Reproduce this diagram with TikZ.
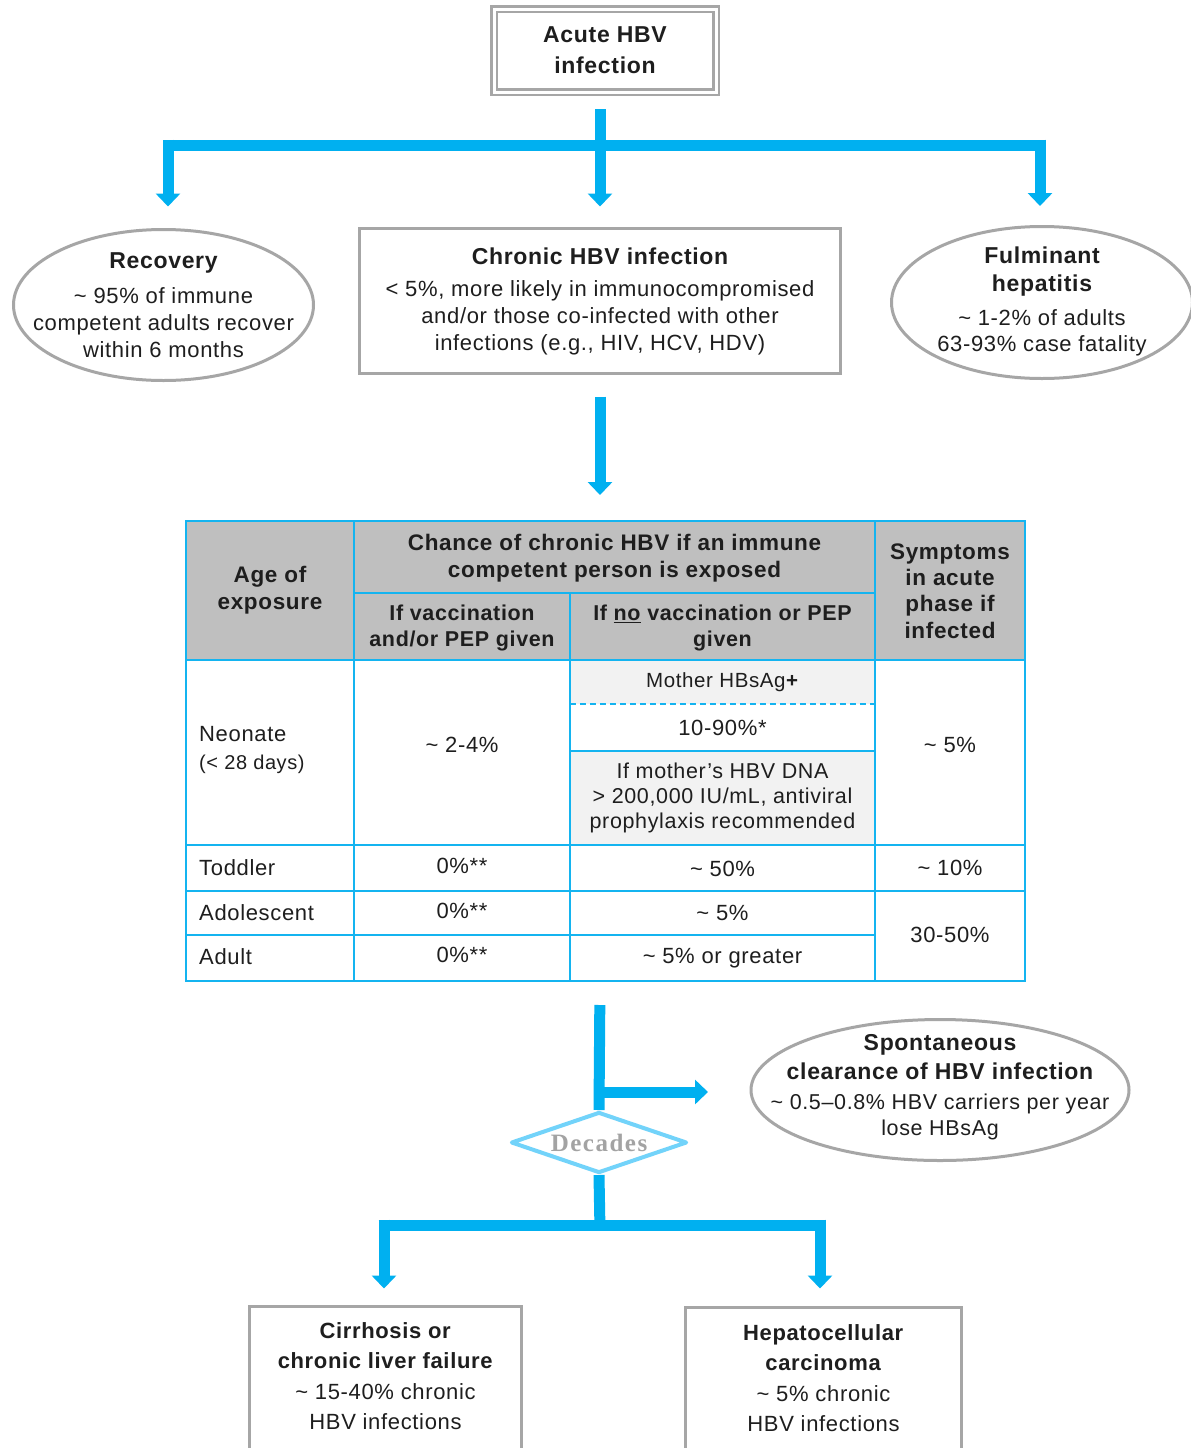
\documentclass[tikz,border=0pt]{standalone}
\usepackage{fontspec}
\setmainfont[LetterSpace=3]{Liberation Sans}
\newfontfamily\decfont[LetterSpace=6]{Liberation Serif}
\usetikzlibrary{arrows.meta,shapes.geometric}
\definecolor{hbvcyan}{HTML}{00B0F0}
\definecolor{tabcyan}{HTML}{14B4F0}
\definecolor{boxgray}{HTML}{A6A6A6}
\definecolor{hdrgray}{HTML}{BFBFBF}
\definecolor{lgray}{HTML}{F2F2F2}
\definecolor{declight}{HTML}{72D3FA}
\definecolor{decgray}{HTML}{A3A3A3}
\definecolor{ink}{HTML}{1E1E1E}
\newcommand\fsz[2]{\fontsize{#1}{#2}\selectfont}
\newcommand\tld{\textasciitilde}
\newcommand\btl[1]{{\bfseries\fsz{23}{28}#1}}
\tikzset{
  arr/.style={draw=hbvcyan, line width=11pt, -{Triangle[width=24pt,length=13pt]}},
  barline/.style={draw=hbvcyan, line width=11pt},
  graybox/.style={draw=boxgray, line width=3pt, rectangle, inner sep=0pt, align=center, text=ink},
  grayell/.style={draw=boxgray, line width=3pt, ellipse, inner sep=0pt},
  plain/.style={inner sep=0pt, align=center, text=ink},
  tline/.style={draw=tabcyan, line width=2pt},
  ttext/.style={plain, font=\fsz{22}{26}},
  thead/.style={plain, font=\bfseries\fsz{22.5}{27}},
}
\begin{document}
\begin{tikzpicture}[x=1pt,y=-1pt]
\useasboundingbox (0,0) rectangle (1191,1448);
\fill[white] (0,0) rectangle (1191,1448);

% ---------- top part ----------
\node[graybox, double=white, double distance=3pt, line width=2.5pt,
      minimum width=222pt, minimum height=83pt, font=\bfseries\fsz{23}{31}]
      (acute) at (605,50.5) {Acute HBV\\infection};

\node[graybox, minimum width=481pt, minimum height=145pt, font=\fsz{22}{27}]
      (chronic) at (600,301)
      {\btl{Chronic HBV infection}\\[5pt]
       < 5\%, more likely in immunocompromised\\
       and/or those co-infected with other\\
       infections (e.g., HIV, HCV, HDV)};

\node[grayell, minimum width=300pt, minimum height=151pt] (rec) at (163.5,305) {};
\node[plain, font=\fsz{22}{27}] (rectext) at (rec.center)
      {\btl{Recovery}\\[8pt]
       \tld{} 95\% of immune\\
       competent adults recover\\
       within 6 months};

\node[grayell, minimum width=301pt, minimum height=152pt] (ful) at (1042,302.5) {};
\node[plain, font=\fsz{22}{26}] (fultext) at ([yshift=1pt]ful.center)
      {\btl{Fulminant}\\[2pt]
       \btl{hepatitis}\\[8pt]
       \tld{} 1-2\% of adults\\
       63-93\% case fatality};

\coordinate (barL) at (168,145);
\coordinate (barR) at (1040,145);
\coordinate (tabtop) at (600,521);
\coordinate (tabbot) at (600,981);

\draw[barline] ([xshift=-5pt]barL) -- ([xshift=5pt]barR);
\draw[arr, shorten <=16pt, shorten >=20.5pt] (chronic.north |- acute.south) -- (chronic.north);
\draw[arr, shorten >=21.5pt] ([yshift=5.5pt]barL) -- (barL |- rec.north);
\draw[arr, shorten >=19pt] ([yshift=5.5pt]barR) -- (barR |- ful.north);
\draw[arr, shorten <=21.5pt, shorten >=26pt] (chronic.south) -- (tabtop);

% ---------- table ----------
\fill[hdrgray] (186,521) rectangle (1025,660);
\fill[lgray] (570,660) rectangle (875,704);
\fill[lgray] (570,751) rectangle (875,845);
\draw[tline] (186,521) rectangle (1025,981);
\draw[tline] (354,521) -- (354,981);
\draw[tline] (570,593) -- (570,981);
\draw[tline] (875,521) -- (875,981);
\draw[tline] (354,593) -- (875,593);
\draw[tline] (186,660) -- (1025,660);
\draw[tline, dashed, dash pattern=on 6pt off 4pt] (570,704) -- (875,704);
\draw[tline] (570,751) -- (875,751);
\draw[tline] (186,845) -- (1025,845);
\draw[tline] (186,891) -- (1025,891);
\draw[tline] (186,935) -- (875,935);

\node[thead] (hage) at (270,590) {Age of\\exposure};
\node[thead] (hchance) at (614.5,558) {Chance of chronic HBV if an immune\\competent person is exposed};
\node[thead, font=\bfseries\fsz{21.5}{26}] (hvac) at (462,628) {If vaccination\\and/or PEP given};
\node[thead, font=\bfseries\fsz{21.5}{26}] (hnovac) at (722.5,628) {If \underline{no} vaccination or PEP\\given};
\node[thead, font=\bfseries\fsz{22.5}{26.3}] (hsym) at (950,591) {Symptoms\\in acute\\phase if\\infected};

\node[ttext, anchor=west] (neo) at (199,734) {Neonate};
\node[ttext, anchor=west, font=\fsz{20}{24}] (neod) at (199,764) {(< 28 days)};
\node[ttext] (neovac) at (462,745) {\tld{} 2-4\%};
\node[ttext, font=\fsz{20.5}{24}] (mother) at (722.5,682) {Mother HBsAg\textbf{+}};
\node[ttext] (tenninety) at (722.5,728) {10-90\%*};
\node[ttext, font=\fsz{21.5}{25}] (ifmother) at (722.5,798)
     {If mother's HBV DNA\\> 200,000 IU/mL, antiviral\\prophylaxis recommended};
\node[ttext] (neosym) at (950,745) {\tld{} 5\%};

\node[ttext, anchor=west] (tod) at (199,868) {Toddler};
\node[ttext] (todvac) at (462,866) {0\%**};
\node[ttext] (todno) at (722.5,869) {\tld{} 50\%};
\node[ttext] (todsym) at (950,868) {\tld{} 10\%};

\node[ttext, anchor=west] (ado) at (199,913) {Adolescent};
\node[ttext] (adovac) at (462,911) {0\%**};
\node[ttext] (adono) at (722.5,913) {\tld{} 5\%};
\node[ttext] (adusym) at (950,935) {30-50\%};

\node[ttext, anchor=west] (adu) at (199,957) {Adult};
\node[ttext] (aduvac) at (462,955) {0\%**};
\node[ttext] (aduno) at (722.5,958) {\tld{} 5\% or greater};

% ---------- lower part ----------
\node[grayell, minimum width=378pt, minimum height=141pt] (spont) at (940,1090) {};
\node[plain, font=\fsz{21.5}{26}] (sponttext) at ([yshift=3pt]spont.center)
      {\btl{Spontaneous}\\[3pt]
       \btl{clearance of HBV infection}\\[4pt]
       \tld{} 0.5--0.8\% HBV carriers per year\\
       lose HBsAg};

\node[diamond, draw=declight, line width=4pt, line join=round, fill=white,
      minimum width=176pt, minimum height=61pt, aspect=2.8, inner sep=0pt,
      text=decgray, font=\decfont\bfseries\fsz{25}{28}]
      (dec) at (599,1142.5) {Decades};

\node[graybox, minimum width=272pt, minimum height=200pt] (cirrbox) at (385.5,1406.5) {};
\node[graybox, minimum width=276pt, minimum height=200pt] (hepbox) at (823.5,1407.5) {};
\node[plain, font=\fsz{22}{30.5}] (cirr) at (385.5,1376)
      {\textbf{Cirrhosis or}\\\textbf{chronic liver failure}\\\tld{} 15-40\% chronic\\HBV infections};
\node[plain, font=\fsz{22}{30.5}] (hep) at (823.5,1378)
      {\textbf{Hepatocellular}\\\textbf{carcinoma}\\\tld{} 5\% chronic\\HBV infections};

\coordinate (br) at (600,1092);
\coordinate (bar2) at (600,1225);
\coordinate (bar2L) at (384,1225);
\coordinate (bar2R) at (820,1225);

\draw[barline, shorten <=24pt] (tabbot) -- (dec.north);
\draw[arr, shorten >=41.5pt] (br) -- (spont.west |- br);
\draw[barline] (dec.south) -- ([yshift=-5.5pt]bar2);
\draw[barline] ([xshift=-5.5pt]bar2L) -- ([xshift=5.5pt]bar2R);
\draw[arr, shorten >=16.5pt] ([yshift=5.5pt]bar2L) -- (bar2L |- cirrbox.north);
\draw[arr, shorten >=17.5pt] ([yshift=5.5pt]bar2R) -- (bar2R |- hepbox.north);
\end{tikzpicture}
\end{document}
